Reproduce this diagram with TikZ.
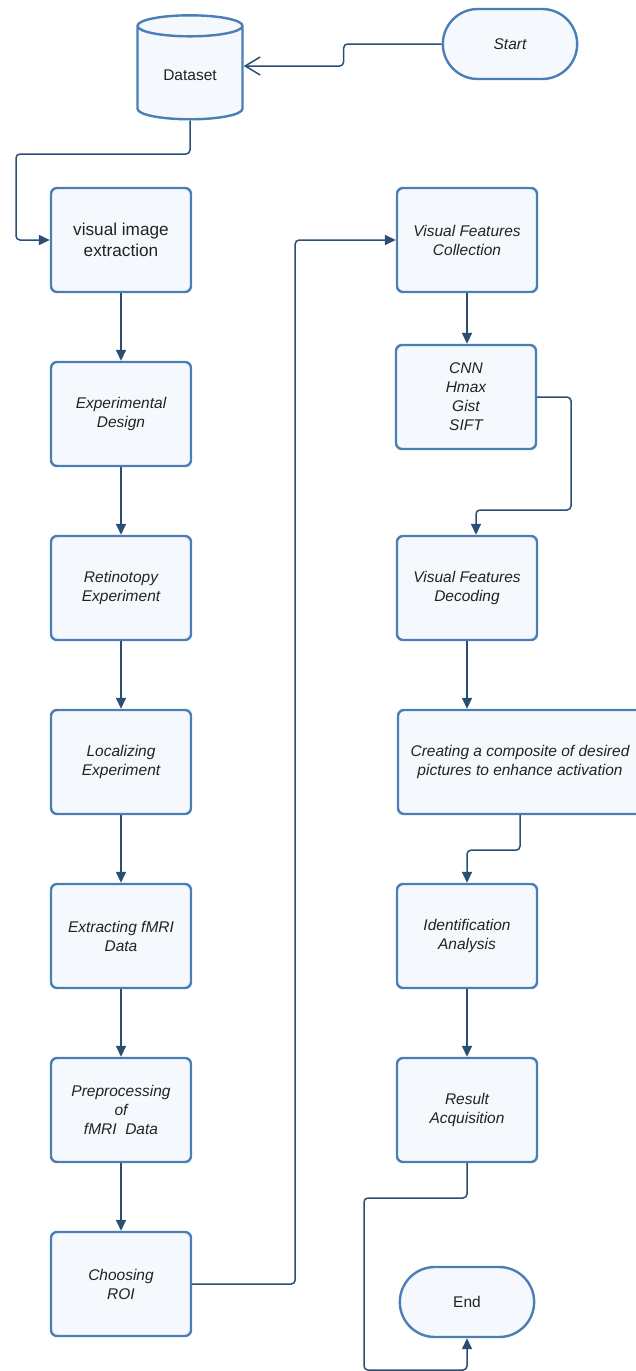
\documentclass[tikz,border=0pt]{standalone}
\usepackage{fontspec}
\setmainfont{Liberation Sans}
\usepackage{xcolor}
\usepackage{tikz}
\usetikzlibrary{shapes.geometric, shapes.misc, arrows.meta}

\definecolor{boxline}{HTML}{4A7EB5}
\definecolor{boxfill}{HTML}{F5F9FE}
\definecolor{linkline}{HTML}{2B4E75}
\definecolor{textgray}{HTML}{222222}

\begin{document}
\begin{tikzpicture}[x=1pt, y=-1pt,
stepnode/.style={rectangle, rounded corners=6, draw=boxline, fill=boxfill, line width=2.4, minimum width=140, minimum height=104, align=center, text=textgray, font=\fontsize{15.5}{19}\selectfont\itshape},
termnode/.style={rounded rectangle, draw=boxline, fill=boxfill, line width=2.4, minimum width=141, minimum height=70, text=textgray, font=\fontsize{15.5}{19}\selectfont},
datanode/.style={cylinder, shape border rotate=90, aspect=0.35, draw=boxline, fill=boxfill, line width=2.4, minimum width=105, minimum height=104, text=textgray, font=\fontsize{15.5}{19}\selectfont},
link/.style={draw=linkline, line width=1.5, rounded corners=4, -{Triangle[length=11, width=10]}},
openlink/.style={draw=linkline, line width=1.5, rounded corners=4, -{Straight Barb[length=15, width=18, line width=1.5]}},
]
\useasboundingbox (0,0) rectangle (635,1371);

%Nodes
\node[datanode] (dataset) at (190,75) {Dataset};
\node[termnode, font=\fontsize{15.5}{19}\selectfont\itshape] (start) at (510,44) {Start};
\node[stepnode, font=\fontsize{17.2}{21}\selectfont] (extract) at (121,240) {visual image\\extraction};
\node[stepnode] (design) at (121,414) {Experimental\\Design};
\node[stepnode] (retino) at (121,588) {Retinotopy\\Experiment};
\node[stepnode] (localize) at (121,762) {Localizing\\Experiment};
\node[stepnode] (fmri) at (121,936) {Extracting fMRI\\Data};
\node[stepnode] (preproc) at (121,1110) {Preprocessing\\of\\fMRI~~Data};
\node[stepnode] (roi) at (121,1284) {Choosing\\ROI};
\node[stepnode] (collect) at (467,240) {Visual Features\\Collection};
\node[stepnode] (cnn) at (466,397) {CNN\\Hmax\\Gist\\SIFT};
\node[stepnode] (decode) at (467,588) {Visual Features\\Decoding};
\node[stepnode, minimum width=244] (composite) at (520,762) {Creating a composite of desired\\pictures to enhance activation};
\node[stepnode] (ident) at (467,936) {Identification\\Analysis};
\node[stepnode] (result) at (467,1110) {Result\\Acquisition};
\node[termnode] (finish) at (467,1302) {End};

%Lines
\draw[openlink] (start.west) -- ++(-98,0) |- ([yshift=9]dataset.east);
\draw[link] (dataset.south) |- (16,154) |- (extract.west);
\draw[link] (extract.south) -- (design.north);
\draw[link] (design.south) -- (retino.north);
\draw[link] (retino.south) -- (localize.north);
\draw[link] (localize.south) -- (fmri.north);
\draw[link] (fmri.south) -- (preproc.north);
\draw[link] (preproc.south) -- (roi.north);
\draw[link] (roi.east) -- ++(103,0) |- (collect.west);
\draw[link] (collect.south) -- (collect.south |- cnn.north);
\draw[link] (cnn.east) -| (571,510) -| ([xshift=9]decode.north);
\draw[link] (decode.south) -- (decode.south |- composite.north);
\draw[link] (composite.south) -- ++(0,35) -| (ident.north);
\draw[link] (ident.south) -- (result.north);
\draw[link] (result.south) |- (364,1198) -- (364,1370) -| (finish.south);

\end{tikzpicture}
\end{document}
